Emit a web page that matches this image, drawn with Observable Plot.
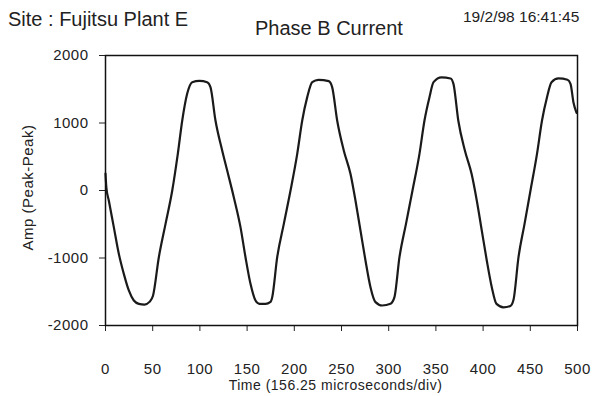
<!DOCTYPE html>
<html><head><meta charset="utf-8">
<script src="https://cdn.jsdelivr.net/npm/d3@7"></script>
<script src="https://cdn.jsdelivr.net/npm/@observablehq/plot@0.6"></script>
<style>
body{margin:0;background:#fff;font-family:"Liberation Sans",Arial,sans-serif;}
#wrap{position:relative;width:595px;height:396px;overflow:hidden;}
#hdr{position:relative;height:45px;}
.t{position:absolute;white-space:nowrap;color:#222;line-height:1.15;}
</style></head><body>
<div id="wrap">
<div id="hdr">
<span class="t" id="site" style="left:8px;top:8px;font-size:20px;">Site : Fujitsu Plant E</span>
<span class="t" id="title" style="left:255px;top:17px;font-size:20px;">Phase B Current</span>
<span class="t" id="stamp" style="left:463px;top:8px;font-size:15.5px;">19/2/98 16:41:45</span>
</div>
<div id="chart"></div>
</div>
<script>
const time = [0,1,3.5,8.8,14.1,19.4,24.7,30,35.3,41.3,46.6,50.3,56.5,63.6,70.7,76.6,81.3,86.5,91.8,99.6,107.7,111.2,116.5,123.6,128.9,135.9,143,148.3,153.6,158.9,163.1,169.5,174.8,176.6,181.9,188.9,196,203.1,208.4,213.7,219,225.6,236.5,240.1,245.4,252.4,259.5,264.8,270.1,275.4,280.7,286,293.1,301.9,306.1,311.4,318.3,325.2,332.6,337.9,343.2,347.5,355.9,365.5,368.6,373.7,380.7,387.8,393.3,398.6,403.9,409.2,414.2,421.6,429,432.2,437.5,443.9,450.2,457.1,462.4,467.7,472.5,479.9,489.4,492.6,495.8,499];
const amp = [250,30,-148,-543,-938,-1235,-1481,-1630,-1679,-1690,-1650,-1560,-988,-494,0,543,1037,1432,1605,1625,1605,1531,1037,593,296,-99,-543,-988,-1383,-1630,-1679,-1680,-1650,-1580,-988,-494,0,543,1037,1383,1605,1640,1620,1531,1037,593,247,-148,-593,-1037,-1432,-1654,-1704,-1679,-1580,-988,-494,0,543,1037,1383,1605,1675,1660,1580,1037,593,247,-148,-593,-1037,-1432,-1680,-1730,-1710,-1620,-988,-494,0,543,1037,1383,1605,1660,1640,1580,1300,1150];
const xTicks = [0,50,100,150,200,250,300,350,400,450,500];
const yTicks = [-2000,-1000,0,1000,2000];
const xLabel = "Time (156.25 microseconds/div)";
const yLabel = "Amp (Peak-Peak)";

const data = time.map((t, i) => ({t, v: amp[i]}));

const chart = Plot.plot({
  width: 595,
  height: 351,
  marginTop: 10,
  marginBottom: 71,
  marginLeft: 105,
  marginRight: 18,
  style: {fontFamily: '"Liberation Sans", Arial, sans-serif', color: "#222", background: "#fff", letterSpacing: "0.5px"},
  x: {domain: [0, 500]},
  y: {domain: [-2000, 2000]},
  marks: [
    Plot.axisY({ticks: yTicks, tickSize: 6, tickPadding: 11, fontSize: 15, label: null, tickFormat: d => String(d)}),
    Plot.axisX({ticks: xTicks, tickSize: 6, tickPadding: 32, fontSize: 15, label: null, tickFormat: d => String(d)}),
    Plot.text([yLabel], {frameAnchor: "left", textAnchor: "middle", rotate: -90, dx: -77, dy: -3, text: d => d, fontSize: 15, fill: "#222", lineAnchor: "middle"}),
    Plot.text([xLabel], {frameAnchor: "bottom", lineAnchor: "middle", dy: 60, dx: -6, text: d => d, fontSize: 14, fill: "#222"}),
    Plot.line(data, {x: "t", y: "v", curve: "monotone-x", stroke: "#1a1a1a", strokeWidth: 2.2}),
    Plot.frame({stroke: "#111", strokeWidth: 1.5})
  ]
});
document.getElementById("chart").appendChild(chart);
</script>
</body></html>
